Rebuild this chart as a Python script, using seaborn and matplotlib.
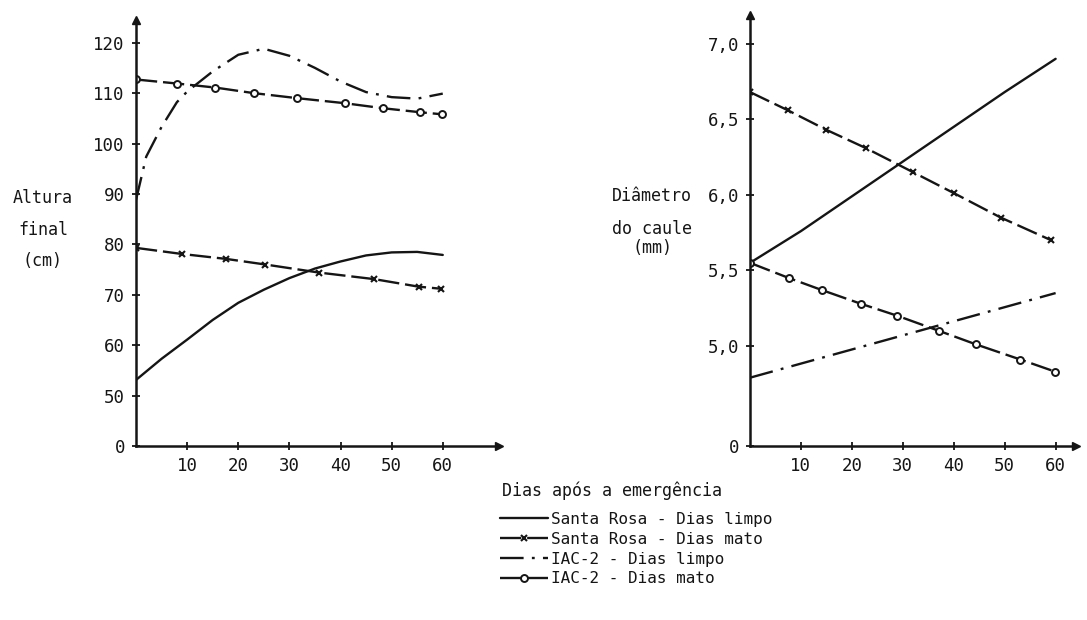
import pandas as pd
import matplotlib.pyplot as plt
import seaborn as sns

sns.set_theme(style='white')
plt.rcParams['font.family'] = ['DejaVu Sans Mono', 'DejaVu Sans']

INK = '#151515'

# --- Altura final (cm) ---
alt_sr_limpo_x = [0, 5, 10, 15, 20, 25, 30, 35, 40, 45, 50, 55, 60]
alt_sr_limpo_y = [53.1, 57.3, 61.1, 65.0, 68.4, 71.0, 73.3, 75.2, 76.6, 77.8, 78.4, 78.5, 77.9]

alt_sr_mato_x = [0, 8.9, 17.7, 25.3, 35.8, 46.6, 55.3, 59.6]
alt_sr_mato_y = [79.3, 78.1, 77.1, 76.0, 74.4, 73.1, 71.6, 71.2]

alt_iac_limpo_x = [0, 2, 5, 8, 10, 15, 20, 25, 30, 35, 40, 45, 50, 55, 60]
alt_iac_limpo_y = [88.8, 97.4, 103.3, 108.2, 110.3, 114.3, 117.6, 118.8, 117.4, 115.0, 112.3, 110.2, 109.2, 108.9, 109.9]

alt_iac_mato_x = [0, 8.0, 15.5, 23.0, 31.5, 40.8, 48.3, 55.6, 59.8]
alt_iac_mato_y = [112.7, 111.9, 111.1, 110.0, 109.0, 108.0, 107.0, 106.2, 105.8]

# --- Diametro do caule (mm) ---
dia_sr_limpo_x = [0, 10, 20, 30, 40, 50, 60]
dia_sr_limpo_y = [5.55, 5.76, 5.99, 6.22, 6.45, 6.68, 6.90]

dia_sr_mato_x = [0, 7.4, 15.0, 22.7, 32.0, 40.1, 49.2, 59.1]
dia_sr_mato_y = [6.68, 6.56, 6.43, 6.31, 6.15, 6.01, 5.85, 5.70]

dia_iac_limpo_x = [0, 60]
dia_iac_limpo_y = [4.79, 5.35]

dia_iac_mato_x = [0, 7.6, 14.1, 21.7, 28.9, 37.1, 44.4, 53.1, 59.9]
dia_iac_mato_y = [5.55, 5.45, 5.37, 5.28, 5.20, 5.10, 5.01, 4.91, 4.83]

labels = ['Santa Rosa - Dias limpo', 'Santa Rosa - Dias mato',
          'IAC-2 - Dias limpo', 'IAC-2 - Dias mato']

x_ticks = [10, 20, 30, 40, 50, 60]
alt_ticks = [40, 50, 60, 70, 80, 90, 100, 110, 120]
alt_tick_labels = ['0', '50', '60', '70', '80', '90', '100', '110', '120']
dia_ticks = [4.338, 5.0, 5.5, 6.0, 6.5, 7.0]
dia_tick_labels = ['0', '5,0', '5,5', '6,0', '6,5', '7,0']

styles = [
    dict(linestyle='-'),
    dict(linestyle=(0, (9, 2.5)), marker='x', markersize=5, markeredgewidth=1.5,
         markeredgecolor=INK),
    dict(linestyle=(0, (10, 3.5, 1.2, 3.5))),
    dict(linestyle=(0, (9, 2.5)), marker='o', markersize=5, markerfacecolor='white',
         markeredgewidth=1.4, markeredgecolor=INK),
]

fig = plt.figure(figsize=(10.87, 6.2), dpi=100)
ax1 = fig.add_axes([136 / 1087, 174 / 620, 363 / 1087, 426 / 620])
ax2 = fig.add_axes([750 / 1087, 174 / 620, 326 / 1087, 431 / 620])


def draw(ax, series):
    for (xs, ys), lab, st in zip(series, labels, styles):
        df = pd.DataFrame({'x': xs, 'y': ys})
        sns.lineplot(data=df, x='x', y='y', ax=ax, color=INK, linewidth=1.7,
                     label=lab, errorbar=None, **st)
    if ax.get_legend() is not None:
        ax.get_legend().remove()
    ax.set_xlabel('')
    ax.set_ylabel('')
    for s in ['top', 'right']:
        ax.spines[s].set_visible(False)
    for s in ['left', 'bottom']:
        ax.spines[s].set_color(INK)
        ax.spines[s].set_linewidth(1.8)
    ax.tick_params(direction='inout', length=6, width=1.3, colors=INK,
                   labelsize=12.5, pad=5, left=True, bottom=True)
    ax.set_xticks(x_ticks)
    ax.set_xticklabels([str(t) for t in x_ticks])
    ax.plot(1, 0, '>', color=INK, markersize=6, transform=ax.transAxes, clip_on=False)
    ax.plot(0, 1, '^', color=INK, markersize=6, transform=ax.transAxes, clip_on=False)


draw(ax1, [(alt_sr_limpo_x, alt_sr_limpo_y), (alt_sr_mato_x, alt_sr_mato_y),
           (alt_iac_limpo_x, alt_iac_limpo_y), (alt_iac_mato_x, alt_iac_mato_y)])
ax1.set_xlim(0, 71)
ax1.set_ylim(40, 124.5)
ax1.set_yticks(alt_ticks)
ax1.set_yticklabels(alt_tick_labels)

draw(ax2, [(dia_sr_limpo_x, dia_sr_limpo_y), (dia_sr_mato_x, dia_sr_mato_y),
           (dia_iac_limpo_x, dia_iac_limpo_y), (dia_iac_mato_x, dia_iac_mato_y)])
ax2.set_xlim(0, 64)
ax2.set_ylim(4.338, 7.19)
ax2.set_yticks(dia_ticks)
ax2.set_yticklabels(dia_tick_labels)

# axis titles written beside the axes, as in the original figure
for txt, yy in [('Altura', 198), ('final', 230), ('(cm)', 261)]:
    fig.text(43 / 1087, 1 - yy / 620, txt, ha='center', va='center', fontsize=12, color=INK)
for txt, yy in [('Diâmetro', 196), ('do caule', 229), ('(mm)', 248)]:
    fig.text(652 / 1087, 1 - yy / 620, txt, ha='center', va='center', fontsize=12, color=INK)

fig.text(502 / 1087, 1 - 491 / 620, 'Dias após a emergência', ha='left', va='center',
         fontsize=12, color=INK)

handles, _ = ax1.get_legend_handles_labels()
leg = fig.legend(handles, labels, loc='upper left', bbox_to_anchor=(500 / 1087, 1 - 512 / 620),
                 frameon=False, fontsize=11.5, handlelength=3.0, handletextpad=0.2,
                 labelspacing=0.3, borderaxespad=0, borderpad=0)
for t in leg.get_texts():
    t.set_color(INK)

fig.savefig('out.png', dpi=100, facecolor='white')
